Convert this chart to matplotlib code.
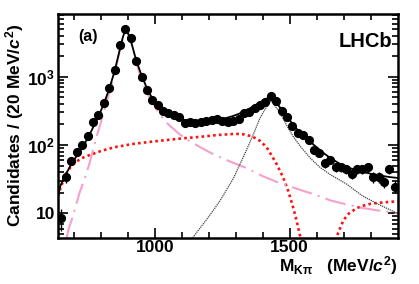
import numpy as np
import matplotlib
matplotlib.use('Agg')
import matplotlib.pyplot as plt
from matplotlib.ticker import FixedLocator, LogLocator, NullFormatter, FixedFormatter

plt.rcParams['font.family'] = ['Liberation Sans', 'DejaVu Sans']
plt.rcParams['font.weight'] = 'bold'
plt.rcParams['mathtext.fontset'] = 'custom'
plt.rcParams['mathtext.rm'] = 'Liberation Sans:bold'
plt.rcParams['mathtext.bf'] = 'Liberation Sans:bold'
plt.rcParams['mathtext.it'] = 'Liberation Sans:bold:italic'
plt.rcParams['mathtext.default'] = 'rm'

# data: 20 MeV bins, centres 650 ... 1890
mass = np.arange(650, 1900, 20)
counts = [8.5, 34, 59, 80, 100, 137, 219, 278, 408, 690,
          1260, 2880, 5000, 3690, 1700, 1000, 630, 460, 385, 318,
          292, 275, 254, 212, 219, 212, 219, 222, 232, 238,
          228, 217, 222, 238, 297, 307, 344, 385, 431, 530,
          440, 320, 255, 188, 150, 140, 118, 85, 77, 54,
          60, 47, 47, 45, 38, 45, 44, 47, 34, 34,
          29, 45, 24.5]

# total fit
tot_m = [640, 650, 670, 690, 710, 730, 750, 770, 790, 810, 830, 850, 870, 880, 890,
         900, 910, 930, 950, 970, 990, 1010, 1030, 1050, 1070, 1090, 1110, 1130, 1150,
         1170, 1190, 1210, 1230, 1250, 1270, 1290, 1310, 1330, 1350, 1370, 1390, 1410,
         1425, 1435, 1450, 1470, 1490, 1510, 1530, 1550, 1570, 1590, 1610, 1630, 1650,
         1670, 1690, 1710, 1730, 1750, 1770, 1790, 1810, 1830, 1850, 1870, 1900]
tot_v = [19, 26, 38, 53, 70, 92, 125, 180, 262, 400, 660, 1200, 2550, 3700, 4900,
         4300, 3400, 1750, 1050, 680, 480, 375, 318, 282, 258, 241, 230, 223, 220,
         220, 222, 227, 234, 242, 252, 266, 285, 310, 340, 378, 420, 470,
         500, 490, 420, 330, 260, 205, 165, 138, 118, 100, 86, 74, 65,
         58, 52, 48, 45, 42, 40, 39, 37, 36, 35, 34, 33]

# K*(892)
k892_m = [672, 680, 695, 720, 740, 757, 780, 800, 833, 850, 870, 890, 900, 910, 930,
          950, 975, 1000, 1025, 1050, 1090, 1130, 1170, 1220, 1280, 1340, 1400, 1460,
          1525, 1590, 1650, 1710, 1770, 1830, 1900]
k892_v = [4.4, 6, 9, 20, 33, 54, 120, 220, 640, 1100, 2500, 4800, 4400, 3500, 1650,
          900, 540, 363, 260, 200, 145, 113, 92, 72, 57, 46, 35, 28,
          23, 19, 15.5, 13.5, 12, 11, 10]

# K*(1430)
k1430_m = [1140, 1170, 1200, 1240, 1290, 1340, 1370, 1390, 1410, 1425, 1432, 1440,
           1463, 1490, 1512, 1540, 1575, 1610, 1650, 1710, 1770, 1830, 1900]
k1430_v = [4.4, 6.3, 9, 15, 32, 85, 160, 250, 340, 420, 440, 400,
           300, 190, 135, 95, 65, 48, 37, 27, 18, 13.5, 10]

# other components (red dotted)
oth1_m = [640, 650, 670, 690, 710, 735, 760, 800, 850, 920, 980, 1040, 1100, 1170,
          1230, 1300, 1330, 1360, 1390, 1415, 1450, 1475, 1495, 1512, 1525, 1537, 1545]
oth1_v = [18, 24, 38, 50, 58, 66, 72, 82, 93, 104, 111, 118, 125, 132,
          140, 146, 143, 134, 115, 92, 54, 34, 21, 12.5, 8, 4.9, 4.0]
oth2_m = [1670, 1680, 1690, 1700, 1720, 1750, 1775, 1800, 1835, 1870, 1900]
oth2_v = [4.0, 5.2, 6.5, 8, 10, 12, 13, 13.8, 14.3, 14.7, 15]

fig = plt.figure(figsize=(4.19, 2.84), dpi=100)
ax = fig.add_axes([0.1384, 0.163, 0.8103, 0.788])

ax.plot(oth1_m, oth1_v, color='#ff1010', lw=1.9, ls=(0, (1, 1.2)), zorder=2)
ax.plot(oth2_m, oth2_v, color='#ff1010', lw=1.9, ls=(0, (1, 1.2)), zorder=2)
ax.plot(k892_m, k892_v, color='#f7a0cc', lw=1.5, ls=(0, (10, 3, 1, 3)), zorder=2)
ax.plot(k1430_m, k1430_v, color='#444444', lw=0.9, ls=(0, (1, 0.7)), zorder=2)
ax.plot(tot_m, tot_v, color='black', lw=1.3, zorder=3)
ax.errorbar(mass, counts, yerr=np.sqrt(counts), fmt='o', color='black', ms=5.6,
            elinewidth=1.0, capsize=0, zorder=4)

ax.set_yscale('log')
ax.set_xlim(640, 1900)
ax.set_ylim(4.4, 8300)

ax.xaxis.set_major_locator(FixedLocator([1000, 1500]))
ax.xaxis.set_minor_locator(FixedLocator(np.arange(700, 1900, 100)))
ax.xaxis.set_major_formatter(FixedFormatter(['1000', '1500']))
ax.yaxis.set_major_locator(FixedLocator([10, 100, 1000]))
ax.yaxis.set_major_formatter(FixedFormatter(['10', r'$10^{2}$', r'$10^{3}$']))
ax.yaxis.set_minor_locator(LogLocator(base=10, subs=np.arange(2, 10)))
ax.yaxis.set_minor_formatter(NullFormatter())

ax.tick_params(which='both', direction='in', top=True, right=True, width=1.2,
               labelsize=12.5, pad=2)
ax.tick_params(which='major', length=7)
ax.tick_params(which='minor', length=4)
for s in ax.spines.values():
    s.set_linewidth(1.8)

ax.set_ylabel(r'Candidates / (20 MeV/$\mathit{c}^{2}$)', fontsize=12.5, fontweight='bold',
              labelpad=1)
ax.set_xlabel(r'$\mathrm{M}_{\mathrm{K\pi}}$   (MeV/$\mathit{c}^{2}$)', fontsize=12.5,
              fontweight='bold', loc='right', labelpad=-1)

ax.text(0.06, 0.90, '(a)', transform=ax.transAxes, fontsize=11.5, fontweight='bold',
        va='center', ha='left')
ax.text(0.985, 0.875, 'LHCb', transform=ax.transAxes, fontsize=14.5, fontweight='bold',
        va='center', ha='right')

fig.savefig('out.png', dpi=100)
